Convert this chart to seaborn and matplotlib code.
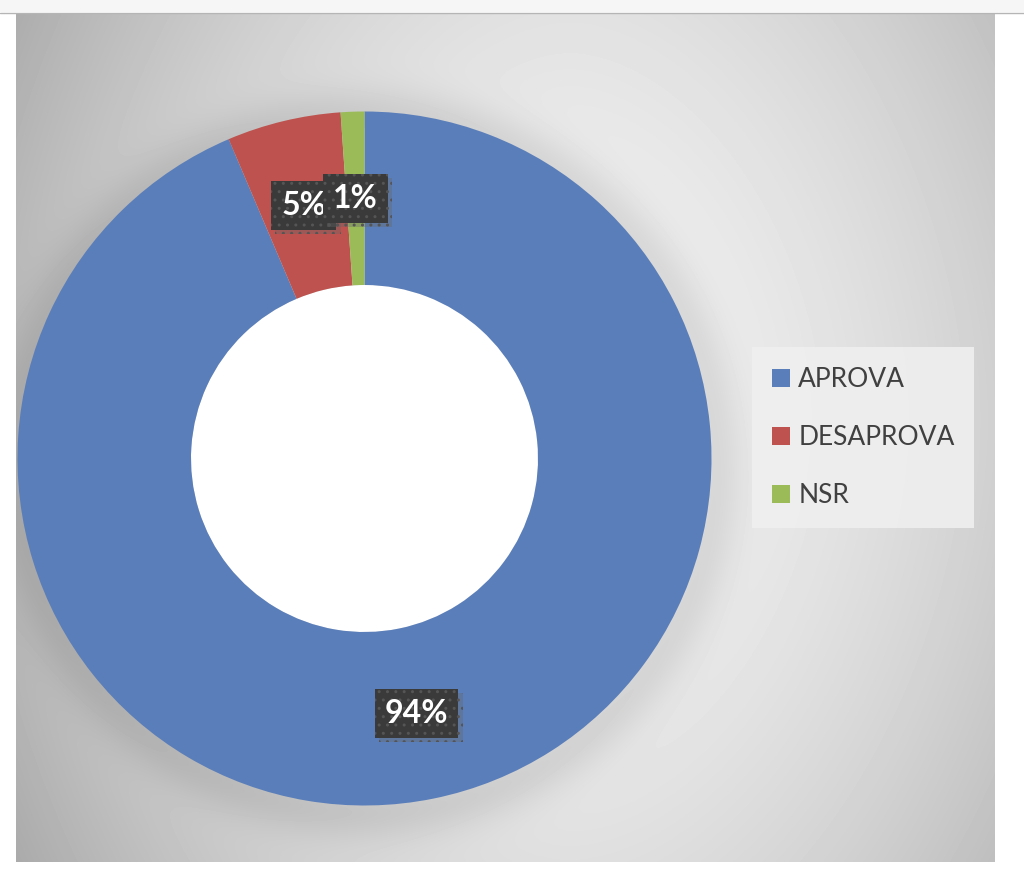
import numpy as np
import matplotlib
matplotlib.use("Agg")
import matplotlib.pyplot as plt
import matplotlib.patheffects as pe
from matplotlib.patches import Patch, Circle, Rectangle
from matplotlib.lines import Line2D
import seaborn as sns

# data
categories = ["APROVA", "DESAPROVA", "NSR"]
shares = [93.6, 5.3, 1.1]
colors = ["#5a7eba", "#bd524e", "#9bbb59"]

sns.set_theme(style="white")
plt.rcParams["font.family"] = ["Lato", "DejaVu Sans"]
plt.rcParams["hatch.color"] = "#555555"
plt.rcParams["hatch.linewidth"] = 1.0

W, H = 1024, 876
fig = plt.figure(figsize=(W / 100, H / 100), dpi=100, facecolor="white")

# top strip of the screenshot
fig.add_artist(Rectangle((0, 1 - 12 / H), 1, 12 / H, transform=fig.transFigure,
                         facecolor="#f6f6f6", edgecolor="none"))
fig.add_artist(Line2D([0, 1], [1 - 12.5 / H] * 2, transform=fig.transFigure,
                      color="#b5b5b5", lw=1))

# chart area with grey radial gradient
x0, x1, y0, y1 = 16, 995, 13, 862
cx, cy, R = 364.5, 458.5, 347
bg = fig.add_axes([x0 / W, 1 - y1 / H, (x1 - x0) / W, (y1 - y0) / H])
xx, yy = np.meshgrid(np.arange(x0, x1) + 0.5, np.arange(y0, y1) + 0.5)
u = (xx - 570) / 480
v = (yy - 420) / 440
val = 0.945 - 0.16 * np.abs(u) ** 1.8 - 0.07 * np.abs(v) ** 1.8
d = np.hypot(xx - cx - 3, yy - cy - 6)
val -= 0.08 * np.exp(-((d - R) / 30) ** 2) * (d > R - 10)
bg.imshow(np.clip(val, 0, 1), cmap="gray", vmin=0, vmax=1, aspect="auto",
          interpolation="bilinear")
bg.axis("off")

# donut
ax = fig.add_axes([(cx - R) / W, 1 - (cy + R) / H, 2 * R / W, 2 * R / H])
wedges, texts, autotexts = ax.pie(
    shares, colors=colors, startangle=90, counterclock=False, radius=1,
    wedgeprops=dict(width=0.5, linewidth=0),
    autopct=lambda p: f"{p:.0f}%", pctdistance=0.75)
ax.add_patch(Circle((0, 0), 0.5, facecolor="white", edgecolor="none", zorder=0.5))
ax.set_xlim(-1, 1)
ax.set_ylim(-1, 1)
ax.axis("off")

for t in autotexts:
    t.set_color("white")
    t.set_fontsize(23)
    t.set_fontweight("bold")
    t.set_bbox(dict(boxstyle="square,pad=0.32", facecolor="#3a3a3a",
                    edgecolor="#555555", linewidth=0, hatch=".."))
    t.get_bbox_patch().set_path_effects(
        [pe.SimplePatchShadow(offset=(3, -3), shadow_rgbFace="#666666", alpha=0.35),
         pe.Normal()])

# legend
handles = [Patch(facecolor=c, edgecolor="none") for c in colors]
leg = fig.legend(handles, categories, loc="center left",
                 bbox_to_anchor=(752 / W, 1 - 437.5 / H), frameon=True,
                 fontsize=19, labelcolor="#404040", handlelength=0.7,
                 handleheight=0.7, handletextpad=0.3, labelspacing=1.25,
                 borderpad=0.75, borderaxespad=0, fancybox=False)
leg.get_frame().set_facecolor("#efefef")
leg.get_frame().set_edgecolor("none")
leg.get_frame().set_alpha(0.9)

fig.savefig("out.png", dpi=100, facecolor="white")
